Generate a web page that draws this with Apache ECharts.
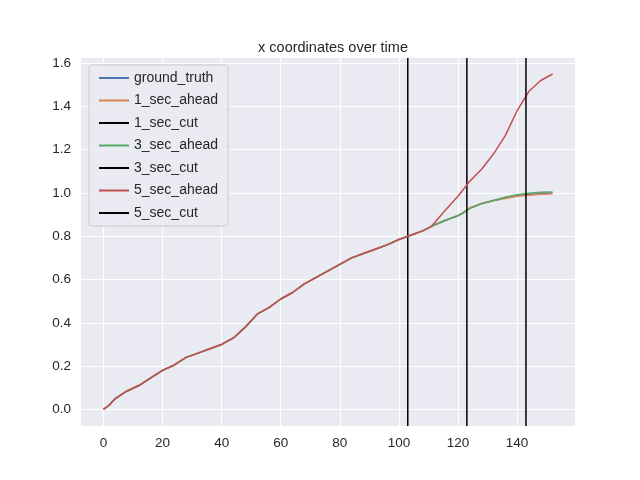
<!DOCTYPE html>
<html>
<head>
<meta charset="utf-8">
<script src="https://cdn.jsdelivr.net/npm/echarts@6/dist/echarts.min.js"></script>
<style>html,body{margin:0;padding:0;background:#fff}#main{width:640px;height:480px}</style>
</head>
<body>
<div id="main"></div>
<script>
// time steps (read every few frames off the picture)
var steps = [0, 2, 4, 8, 12, 16, 20, 24, 28, 32, 36, 40, 44, 48, 52, 56, 60, 64, 68, 72, 76, 80, 84, 88, 92, 96, 100, 104, 108, 111, 116, 120, 122, 124, 128, 132, 136, 140, 144, 148, 152];
var groundTruth = [0, 0.02, 0.05, 0.085, 0.11, 0.145, 0.18, 0.205, 0.24, 0.26, 0.28, 0.30, 0.33, 0.38, 0.44, 0.47, 0.51, 0.54, 0.58, 0.61, 0.64, 0.67, 0.70, 0.72, 0.74, 0.76, 0.785, 0.805, 0.825, 0.846, 0.875, 0.895, 0.91, 0.93, 0.952, 0.965, 0.978, 0.988, 0.993, 0.997, 1.0];
var ahead1 = [0, 0.02, 0.05, 0.085, 0.11, 0.145, 0.18, 0.205, 0.24, 0.26, 0.28, 0.30, 0.33, 0.38, 0.44, 0.47, 0.51, 0.54, 0.58, 0.61, 0.64, 0.67, 0.70, 0.72, 0.74, 0.76, 0.785, 0.805, 0.825, 0.846, 0.875, 0.895, 0.912, 0.932, 0.952, 0.964, 0.975, 0.985, 0.99, 0.994, 0.997];
var ahead3 = [0, 0.02, 0.05, 0.085, 0.11, 0.145, 0.18, 0.205, 0.24, 0.26, 0.28, 0.30, 0.33, 0.38, 0.44, 0.47, 0.51, 0.54, 0.58, 0.61, 0.64, 0.67, 0.70, 0.72, 0.74, 0.76, 0.785, 0.805, 0.825, 0.846, 0.875, 0.895, 0.91, 0.928, 0.95, 0.965, 0.98, 0.992, 0.999, 1.003, 1.005];
var ahead5 = [0, 0.02, 0.05, 0.085, 0.11, 0.145, 0.18, 0.205, 0.24, 0.26, 0.28, 0.30, 0.33, 0.38, 0.44, 0.47, 0.51, 0.54, 0.58, 0.61, 0.64, 0.67, 0.70, 0.72, 0.74, 0.76, 0.785, 0.805, 0.825, 0.846, 0.925, 0.985, 1.02, 1.055, 1.11, 1.18, 1.265, 1.38, 1.47, 1.52, 1.55];
var cutX = [103, 123, 143];
var xTicks = [0, 20, 40, 60, 80, 100, 120, 140];
var yTicks = [0, 0.2, 0.4, 0.6, 0.8, 1.0, 1.2, 1.4, 1.6];
var yMin = -0.077, yMax = 1.624;

function pairs(ys) {
  return steps.map(function (x, i) { return [x, ys[i]]; });
}
function cutLine(x) {
  return [[x, yMin], [x, yMax]];
}

var lineIcon = 'path://M0,0 L30,0 L30,2 L0,2 Z';
var font = 'Liberation Sans';

function lineSeries(name, data, color) {
  return {
    name: name, type: 'line', data: data, showSymbol: false, symbol: 'none',
    lineStyle: { color: color, width: 1.5 }, itemStyle: { color: color }, animation: false
  };
}

var myChart = echarts.init(document.getElementById('main'));
myChart.setOption({
  backgroundColor: '#ffffff',
  textStyle: { fontFamily: font },
  title: {
    text: 'x coordinates over time', left: 328, top: 35, textAlign: 'center',
    textStyle: { fontSize: 14.5, fontWeight: 'normal', color: '#262626', fontFamily: font }
  },
  grid: { left: 81, right: 65, top: 58, bottom: 54, show: true, backgroundColor: '#eaeaf2', borderWidth: 0 },
  legend: {
    orient: 'vertical', left: 89, top: 65, itemWidth: 30, itemHeight: 2, itemGap: 8.5,
    icon: lineIcon, padding: [6, 10, 6, 10],
    backgroundColor: 'rgba(234,234,242,0.85)', borderColor: '#cccccc', borderWidth: 1, borderRadius: 3,
    textStyle: { fontSize: 14, color: '#262626', fontFamily: font },
    data: ['ground_truth', '1_sec_ahead', '1_sec_cut', '3_sec_ahead', '3_sec_cut', '5_sec_ahead', '5_sec_cut']
  },
  xAxis: {
    type: 'value', min: -7.6, max: 159.6,
    axisLine: { show: false }, axisTick: { show: false, customValues: xTicks },
    axisLabel: { customValues: xTicks, fontSize: 13.5, color: '#262626', margin: 10 },
    splitLine: { show: true, lineStyle: { color: '#ffffff', width: 1.2 } }
  },
  yAxis: {
    type: 'value', min: yMin, max: yMax,
    axisLine: { show: false }, axisTick: { show: false, customValues: yTicks },
    axisLabel: { customValues: yTicks, fontSize: 13.5, color: '#262626', margin: 10,
      formatter: function (v) { return v.toFixed(1); } },
    splitLine: { show: true, lineStyle: { color: '#ffffff', width: 1.2 } }
  },
  series: [
    lineSeries('ground_truth', pairs(groundTruth), '#4c72b0'),
    lineSeries('1_sec_ahead', pairs(ahead1), '#dd8452'),
    lineSeries('1_sec_cut', cutLine(cutX[0]), '#000000'),
    lineSeries('3_sec_ahead', pairs(ahead3), '#55a868'),
    lineSeries('3_sec_cut', cutLine(cutX[1]), '#000000'),
    lineSeries('5_sec_ahead', pairs(ahead5), '#c44e52'),
    lineSeries('5_sec_cut', cutLine(cutX[2]), '#000000')
  ]
});
</script>
</body>
</html>
